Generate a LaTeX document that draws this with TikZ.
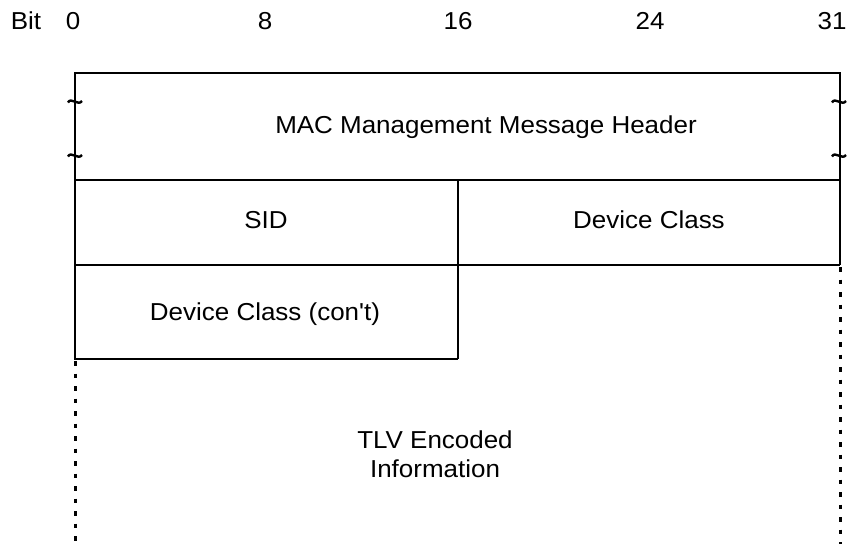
\documentclass[tikz,border=0pt]{standalone}
\usepackage{fontspec}
\setmainfont{Liberation Sans}[Ligatures=TeXOff]
\begin{document}
\begin{tikzpicture}[x=1pt,y=-1pt,
  lbl/.style={font=\fontsize{24.5}{28}\selectfont, inner sep=0pt, transform shape, xscale=1.06, anchor=base},
  box/.style={line width=2.3pt},
  dots/.style={line width=3pt, dash pattern=on 4.5pt off 8pt},
  tild/.style={line width=2.4pt}]
\useasboundingbox (0,0) rectangle (854,544);
% bit ruler
\node[lbl] (bit) at (26,29) {Bit};
\node[lbl] (b0) at (73,29) {0};
\node[lbl] (b8) at (265,29) {8};
\node[lbl] (b16) at (458,29) {16};
\node[lbl] (b24) at (650,29) {24};
\node[lbl] (b31) at (832,29) {31};
% boxes
\draw[box] (75,180) -- (75,73) -- (840,73) -- (840,180);
\draw[box] (75,180) -- (840,180);
\draw[box] (75,180) -- (75,265);
\draw[box] (840,180) -- (840,265);
\draw[box] (458,180) -- (458,359);
\draw[box] (75,265) -- (840,265);
\draw[box] (75,265) -- (75,359) -- (458,359);
% dotted continuation
\draw[dots] (75,361) -- (75,544);
\draw[dots] (840,267) -- (840,544);
% break marks
\foreach \yy in {101,155}{
  \draw[tild] (68,\yy+1.5) .. controls (71,\yy-4.5) and (78,\yy+5.5) .. (82,\yy);
  \draw[tild] (832,\yy+1.5) .. controls (835,\yy-4.5) and (842,\yy+5.5) .. (846,\yy);
}
% labels
\node[lbl] (hdr) at (486,133) {MAC Management Message Header};
\node[lbl] (sid) at (266,228) {SID};
\node[lbl] (dc) at (649,228) {Device Class};
\node[lbl] (dcc) at (265,320) {Device Class (con't)};
\node[lbl] (tlv1) at (435,448) {TLV Encoded};
\node[lbl] (tlv2) at (435,477) {Information};
\end{tikzpicture}
\end{document}
